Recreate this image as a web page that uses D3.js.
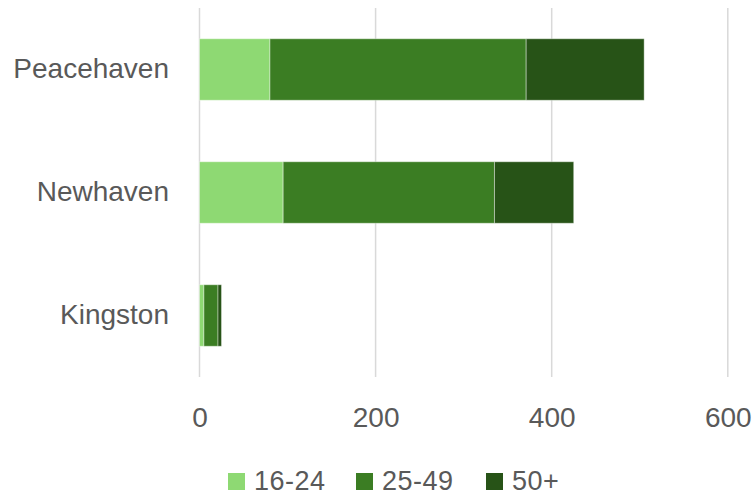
<!DOCTYPE html>
<html>
<head>
<meta charset="utf-8">
<script src="https://cdn.jsdelivr.net/npm/d3@7"></script>
<style>
  html, body { margin: 0; padding: 0; background: #fff; }
  svg { display: block; font-family: "Liberation Sans", Arial, sans-serif; }
</style>
</head>
<body>
<svg id="chart" width="756" height="494"></svg>
<script>
// Employment counts by age band for each town
const towns = ["Peacehaven", "Newhaven", "Kingston"];
const ageBands = ["16-24", "25-49", "50+"];
const age16to24 = [80, 95, 5];
const age25to49 = [291, 240, 16];
const age50plus = [134, 90, 4];
const xTicks = [0, 200, 400, 600];
const bandColors = ["#8ED973", "#3B7D23", "#275317"];

const rows = towns.map((t, i) => ({
  town: t,
  "16-24": age16to24[i],
  "25-49": age25to49[i],
  "50+": age50plus[i]
}));

const svg = d3.select("#chart");
const textColor = "#595959";

const x = d3.scaleLinear().domain([0, 600]).range([199.5, 727.8]);
const y = d3.scaleBand().domain(towns).range([8, 377]).paddingInner(0.5).paddingOuter(0.25);
const color = d3.scaleOrdinal().domain(ageBands).range(bandColors);

// vertical gridlines
svg.append("g")
  .selectAll("line")
  .data(xTicks)
  .join("line")
  .attr("x1", d => x(d)).attr("x2", d => x(d))
  .attr("y1", 8).attr("y2", 377)
  .attr("stroke", "#d9d9d9")
  .attr("stroke-width", 1.5);

// stacked bars
const stacked = d3.stack().keys(ageBands)(rows);
svg.append("g")
  .selectAll("g")
  .data(stacked)
  .join("g")
  .attr("fill", d => color(d.key))
  .selectAll("rect")
  .data(d => d)
  .join("rect")
  .attr("x", d => x(d[0]))
  .attr("width", d => x(d[1]) - x(d[0]))
  .attr("y", d => y(d.data.town))
  .attr("height", y.bandwidth())
  .attr("stroke", "rgba(255,255,255,0.4)")
  .attr("stroke-width", 1);

// x axis labels
const xAxis = d3.axisBottom(x).tickValues(xTicks).tickSize(0).tickPadding(0);
const gx = svg.append("g").attr("transform", "translate(0,405)").call(xAxis);
gx.select(".domain").remove();
gx.selectAll("text")
  .attr("dy", "0.8em")
  .attr("fill", textColor)
  .style("font-size", "28px")
  .style("font-family", "'Liberation Sans', Arial, sans-serif");

// y axis labels
const yAxis = d3.axisLeft(y).tickSize(0).tickPadding(0);
const gy = svg.append("g").attr("transform", "translate(169,0)").call(yAxis);
gy.select(".domain").remove();
gy.selectAll("text")
  .attr("fill", textColor)
  .style("font-size", "28px")
  .style("font-family", "'Liberation Sans', Arial, sans-serif");

// legend
const legendX = [228, 356, 486];
const legend = svg.append("g")
  .selectAll("g")
  .data(ageBands)
  .join("g")
  .attr("transform", (d, i) => `translate(${legendX[i]},473)`);
legend.append("rect")
  .attr("width", 17).attr("height", 17)
  .attr("fill", d => color(d));
legend.append("text")
  .attr("x", 26).attr("y", 16.5)
  .attr("fill", textColor)
  .style("font-size", "27px")
  .style("letter-spacing", "0.5px")
  .text(d => d);
</script>
</body>
</html>
